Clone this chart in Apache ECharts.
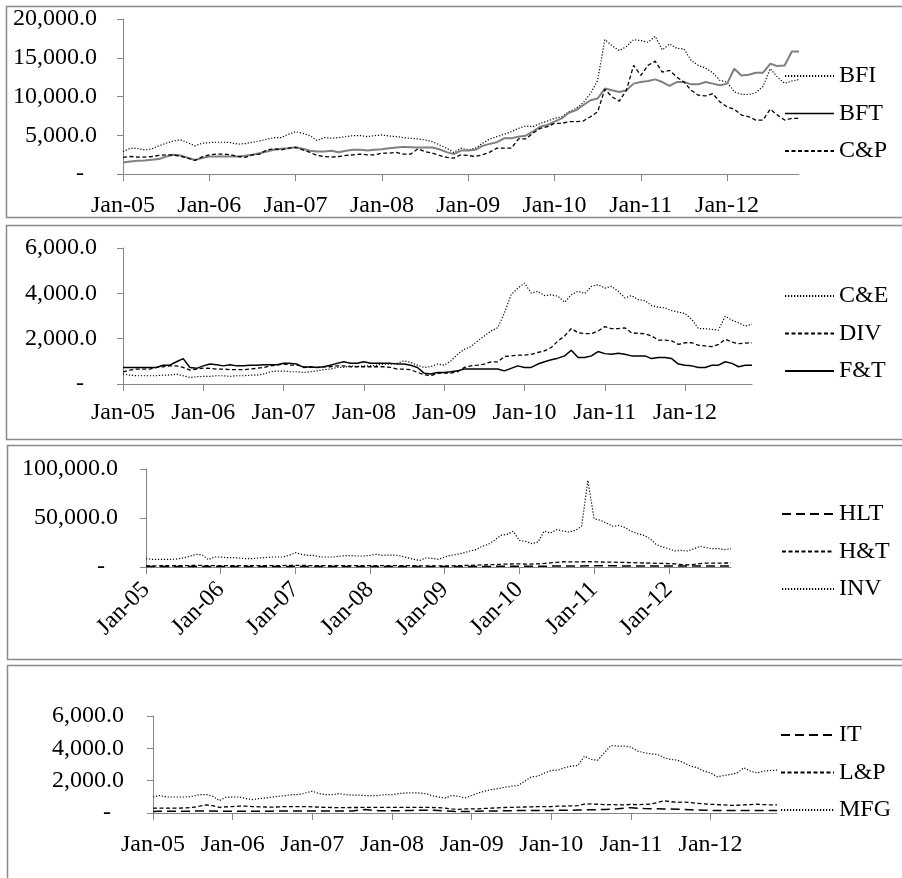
<!DOCTYPE html>
<html><head><meta charset="utf-8">
<script src="https://cdn.jsdelivr.net/npm/echarts@6/dist/echarts.min.js"></script>
<style>html,body{margin:0;padding:0;background:#fff}#c{width:902px;height:878px}</style>
</head><body><div id="c"></div><script>
const months = ["Jan-05","Feb-05","Mar-05","Apr-05","May-05","Jun-05","Jul-05","Aug-05","Sep-05","Oct-05","Nov-05","Dec-05",
"Jan-06","Feb-06","Mar-06","Apr-06","May-06","Jun-06","Jul-06","Aug-06","Sep-06","Oct-06","Nov-06","Dec-06",
"Jan-07","Feb-07","Mar-07","Apr-07","May-07","Jun-07","Jul-07","Aug-07","Sep-07","Oct-07","Nov-07","Dec-07",
"Jan-08","Feb-08","Mar-08","Apr-08","May-08","Jun-08","Jul-08","Aug-08","Sep-08","Oct-08","Nov-08","Dec-08",
"Jan-09","Feb-09","Mar-09","Apr-09","May-09","Jun-09","Jul-09","Aug-09","Sep-09","Oct-09","Nov-09","Dec-09",
"Jan-10","Feb-10","Mar-10","Apr-10","May-10","Jun-10","Jul-10","Aug-10","Sep-10","Oct-10","Nov-10","Dec-10",
"Jan-11","Feb-11","Mar-11","Apr-11","May-11","Jun-11","Jul-11","Aug-11","Sep-11","Oct-11","Nov-11","Dec-11",
"Jan-12","Feb-12","Mar-12","Apr-12","May-12","Jun-12","Jul-12","Aug-12","Sep-12","Oct-12","Nov-12"];

// Panel 1
const BFI = [2900,3300,3300,3100,3250,3650,3970,4270,4400,4050,3630,3970,
4050,4100,4100,4050,3850,3930,4100,4270,4480,4700,4700,5120,
5460,5250,4950,4310,4700,4610,4700,4820,4950,4950,4820,4950,
5040,4900,4820,4700,4610,4520,4400,4180,3760,3330,2780,3330,
3120,3330,3970,4520,4820,5120,5460,5890,6190,6100,6530,6830,
7170,7390,8030,8450,9220,10380,12080,17340,16560,15930,16440,17340,
17210,17000,17760,16010,16780,16220,16140,14650,14010,13660,13070,12080,
11870,10600,10300,10250,10500,11300,13600,12500,11700,12000,12200];
const BFT = [1490,1620,1700,1750,1840,1920,2260,2480,2390,2100,1800,2050,
2260,2260,2260,2260,2260,2350,2480,2690,2900,3120,3250,3330,
3460,3250,2990,2900,2900,2990,2820,2990,3120,3120,3030,3120,
3200,3330,3420,3500,3460,3420,3420,3420,3200,2820,2560,3030,
3030,3120,3630,3890,4100,4610,4610,4820,4950,5460,6100,6320,
6750,7170,7900,8240,8880,9520,9740,11020,10800,10590,10800,11660,
11870,12000,12210,11870,11360,11870,11870,11570,11570,11870,11660,11440,
11660,13580,12720,12810,13070,13070,14220,13920,14010,15800,15800];
const CP = [2140,2260,2180,2180,2260,2390,2480,2450,2300,2050,1750,2200,
2480,2560,2560,2480,2260,2140,2480,2560,3120,3250,3120,3330,
3420,3120,2780,2390,2260,2180,2260,2390,2480,2560,2480,2480,
2690,2690,2780,2560,2560,3250,2900,2690,2390,2140,2050,2480,
2390,2260,2480,2820,3330,3330,3330,4520,4520,5250,5890,6100,
6530,6530,6750,6750,6830,7390,8030,10930,9950,9400,10800,14010,
12720,14010,14560,13150,13360,12510,11870,10800,10170,10080,10380,9310,
8670,8370,7600,7390,6960,6960,8370,7600,6960,7170,7170];

// Panel 2
const CE = [440,390,365,365,365,365,390,390,440,365,290,320,
335,335,365,365,335,365,365,390,390,440,540,570,
570,540,540,510,540,580,630,660,730,730,800,770,
800,800,830,880,880,920,1020,950,830,730,770,880,
830,1020,1310,1530,1650,1900,2120,2340,2480,3140,3940,4230,
4450,4010,4090,3900,3940,3870,3610,3940,4090,3990,4310,4380,
4230,4310,4090,3800,3900,3720,3680,3460,3390,3360,3240,3170,
3110,2850,2440,2440,2410,2380,2990,2820,2700,2560,2630];
const DIV = [540,610,660,660,660,730,760,800,800,730,610,660,
700,690,660,660,630,630,630,660,690,730,800,830,
880,830,830,770,730,730,760,760,800,800,760,760,
760,760,760,760,730,660,660,630,510,410,365,470,
480,480,540,730,800,830,880,980,980,1210,1240,1270,
1270,1310,1390,1460,1610,1900,2120,2450,2260,2220,2220,2340,
2530,2440,2440,2480,2260,2230,2220,2120,1940,1940,1900,1750,
1820,1820,1710,1680,1650,1750,1970,1850,1780,1800,1820];
const FT = [730,730,730,730,730,730,830,830,980,1120,730,690,
800,880,850,800,850,800,800,830,830,850,850,850,
920,910,880,730,760,730,760,830,910,980,920,920,
980,920,920,920,910,880,880,830,730,480,440,510,
510,540,580,660,660,660,660,660,660,580,690,800,
730,730,880,980,1070,1140,1240,1490,1170,1170,1240,1430,
1340,1310,1360,1310,1240,1240,1240,1120,1170,1170,1120,880,
830,800,730,730,830,830,980,910,760,830,830];

// Panel 3
const HLT = [400,400,450,450,450,500,500,550,550,500,450,500,
500,500,500,500,500,500,550,550,550,600,600,600,
650,600,600,600,600,600,600,600,600,600,600,600,
600,600,600,600,600,600,600,550,500,450,400,450,
450,450,500,500,550,550,600,600,650,650,700,700,
700,700,750,800,850,900,950,1000,1000,1050,1100,1150,
1200,1200,1200,1150,1150,1100,1100,1100,1050,1050,1000,1000,
1000,950,950,950,950,1000,1000,1000,1000,1050,1050];
const HT = [1200,1200,1200,1300,1300,1300,1400,1500,1600,1600,1300,1400,
1400,1400,1400,1400,1400,1400,1400,1400,1500,1500,1500,1600,
1700,1600,1500,1500,1500,1500,1500,1500,1500,1500,1500,1500,
1500,1500,1500,1500,1500,1500,1400,1300,1200,1100,1000,1100,
1100,1200,1300,1500,1700,1900,2100,2300,2500,2700,3000,3100,
3200,3000,3000,3200,3600,4200,4800,5400,5200,5200,5300,5400,
5300,5100,5000,4900,4800,4600,4500,4300,4100,4000,3800,3600,
3500,3200,2500,2200,2600,3500,4000,3900,4000,4100,4100];
const INV = [8500,7800,7800,7800,7800,8200,9200,10900,12900,12600,7500,10200,
10200,9500,9500,9200,8500,8500,9200,9500,10200,10200,10200,11900,
14600,12900,11900,11900,10200,10200,10200,10900,11600,11600,11200,11200,
11900,12900,11900,12200,12200,11200,9500,7800,6800,9200,8800,7800,
10200,11900,12900,14300,16300,17700,21100,23100,27200,32300,33300,36400,
27200,26200,23800,25500,36700,34700,38100,36700,35700,37400,41500,88400,
49300,47600,44900,41500,42500,40100,36400,34000,32300,28900,22800,20400,
18700,16300,17000,16300,18400,21100,19700,18700,18700,17700,18700];

// Panel 4
const IT = [100,110,110,110,110,110,115,120,130,125,110,115,
115,115,115,115,115,115,115,120,120,120,125,125,
130,125,120,120,120,125,125,180,220,170,140,140,
140,145,150,160,170,175,165,150,130,110,90,95,
100,110,120,130,130,140,140,150,150,150,160,160,
160,165,170,170,180,190,200,200,220,240,260,300,
330,300,280,270,260,250,240,230,220,200,180,170,
160,150,150,150,150,150,150,150,150,150,150];
const LP = [300,300,300,300,300,320,350,420,500,450,350,380,
400,420,420,400,380,370,360,380,400,400,400,400,
380,360,350,340,330,330,340,340,350,350,350,350,
350,350,350,350,350,350,340,330,300,250,220,250,
250,260,280,300,320,340,350,360,370,380,400,400,
400,420,430,440,450,550,560,540,520,520,500,500,
530,520,530,550,650,750,700,660,680,640,600,570,
540,520,500,470,480,500,520,540,520,500,500];
const MFG = [990,1080,990,990,990,990,1035,1140,1140,1035,765,970,
990,990,890,830,890,930,990,1035,1080,1140,1140,1240,
1350,1200,1140,1140,1200,1140,1100,1100,1080,1080,1080,1140,
1140,1200,1240,1240,1240,1200,1080,990,930,1080,1035,930,
1080,1240,1350,1450,1510,1590,1660,1700,1970,2240,2280,2480,
2630,2650,2800,2900,2940,3520,3310,3270,3730,4180,4140,4140,
4080,3830,3730,3660,3620,3420,3310,3270,3100,2900,2800,2590,
2480,2240,2320,2380,2480,2800,2590,2480,2590,2630,2650];

const FONT = 'Liberation Serif';
const FS = 24;
const AX = '#868686';
function fmt(v){ return v.toFixed(1).replace(/\B(?=(\d{3})+(?!\d))/g, ','); }

const grids = [
  {left:123, top:19, width:676, height:155},
  {left:123, top:248, width:629, height:136},
  {left:146, top:469, width:585, height:98},
  {left:153, top:716, width:624, height:97}
];
const yCfg = [
  {max:20000, interval:5000, margin:26},
  {max:6000, interval:2000, margin:26},
  {max:100000, interval:50000, margin:28},
  {max:6000, interval:2000, margin:29}
];
const xLabelCfg = [
  {margin:20, rotate:0},
  {margin:17, rotate:0},
  {margin:19, rotate:45},
  {margin:20, rotate:0}
];

const xAxis = grids.map((g,i)=>({
  type:'category', gridIndex:i, data:months, boundaryGap:false,
  axisLine:{show:true, lineStyle:{color:AX, width:1}},
  axisTick:{show:true, interval:11, length:7, lineStyle:{color:AX}},
  axisLabel:{interval:11, fontFamily:FONT, fontSize:FS, color:'#000', margin:xLabelCfg[i].margin, rotate:xLabelCfg[i].rotate},
  splitLine:{show:false}
}));
const yAxis = yCfg.map((c,i)=>({
  type:'value', gridIndex:i, min:0, max:c.max, interval:c.interval,
  axisLine:{show:true, lineStyle:{color:AX, width:1}},
  axisTick:{show:true, length:6, lineStyle:{color:AX}},
  splitLine:{show:false},
  axisLabel:{fontFamily:FONT, fontSize:FS, color:'#000', margin:c.margin,
    formatter:function(v){ return v===0 ? '{z|-}' : fmt(v); },
    rich:{z:{fontFamily:FONT, fontSize:FS, color:'#000', padding:[0,13,0,0]}}}
}));

const DOT=[1.2,1.8], DASH=[4,2.5], LONG=[9,5];
function s(name, data, gi, color, width, type){
  return {name:name, type:'line', data:data, xAxisIndex:gi, yAxisIndex:gi, symbol:'none', showSymbol:false,
    lineStyle:{color:color, width:width, type:type}, itemStyle:{color:color}, emphasis:{disabled:true}, animation:false};
}
const series = [
  s('BFI', BFI, 0, '#000', 1.2, DOT),
  s('BFT', BFT, 0, '#808080', 2, 'solid'),
  s('C&P', CP, 0, '#000', 1.3, DASH),
  s('C&E', CE, 1, '#000', 1.2, DOT),
  s('DIV', DIV, 1, '#000', 1.3, DASH),
  s('F&T', FT, 1, '#000', 1.5, 'solid'),
  s('HLT', HLT, 2, '#000', 1.5, LONG),
  s('H&T', HT, 2, '#000', 1.3, DASH),
  s('INV', INV, 2, '#000', 1.2, DOT),
  s('IT', IT, 3, '#000', 1.5, LONG),
  s('L&P', LP, 3, '#000', 1.3, DASH),
  s('MFG', MFG, 3, '#000', 1.2, DOT)
];

function lg(names, left, top, w){
  return {orient:'vertical', left:left, top:top, padding:0, itemGap:13.5, itemWidth:w, itemHeight:14,
    selectedMode:false, data:names,
    itemStyle:{opacity:0, color:'rgba(0,0,0,0)', borderWidth:0},
    textStyle:{fontFamily:FONT, fontSize:FS, color:'#000', lineHeight:24}};
}
const legends = [
  lg([{name:'BFI'},{name:'BFT', lineStyle:{color:'#000', width:1.5}},{name:'C&P'}], 784, 64, 49),
  lg(['C&E','DIV','F&T'], 784, 284, 49),
  lg(['HLT','H&T','INV'], 781, 502, 52),
  lg(['IT','L&P','MFG'], 780, 723, 53)
];

const boxStyle = {fill:'none', stroke:'#8a8a8a', lineWidth:1.5};
const graphic = [
  {type:'rect', shape:{x:6.5, y:6.5, width:920, height:211}, style:boxStyle, silent:true, z:-1},
  {type:'rect', shape:{x:6.5, y:225.5, width:920, height:214}, style:boxStyle, silent:true, z:-1},
  {type:'rect', shape:{x:7.5, y:445.5, width:920, height:214}, style:boxStyle, silent:true, z:-1},
  {type:'rect', shape:{x:7.5, y:665.5, width:920, height:240}, style:boxStyle, silent:true, z:-1}
];

const chart = echarts.init(document.getElementById('c'), null, {renderer:'canvas'});
chart.setOption({
  animation:false, backgroundColor:'#fff',
  grid:grids, xAxis:xAxis, yAxis:yAxis, series:series, legend:legends, graphic:graphic
});
</script></body></html>
